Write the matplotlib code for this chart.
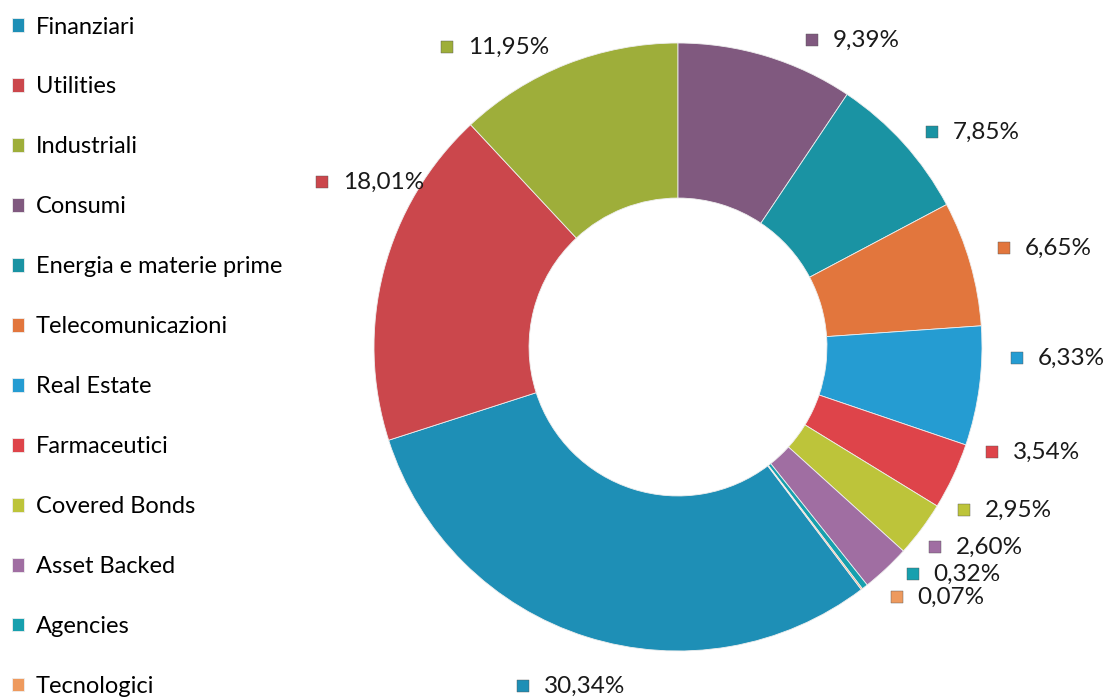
import matplotlib
matplotlib.use("Agg")
import matplotlib.pyplot as plt

plt.rcParams["font.family"] = ["Lato", "DejaVu Sans"]

# legend / data order
labels = ["Finanziari", "Utilities", "Industriali", "Consumi",
          "Energia e materie prime", "Telecomunicazioni", "Real Estate",
          "Farmaceutici", "Covered Bonds", "Asset Backed", "Agencies",
          "Tecnologici"]
values = [30.34, 18.01, 11.95, 9.39, 7.85, 6.65, 6.33, 3.54, 2.95, 2.60, 0.32, 0.07]
colors = ["#1E8FB6", "#CB474C", "#9EAE3A", "#80597F", "#1A93A3", "#E2763D",
          "#259CD2", "#DE444A", "#BDC43A", "#A06EA2", "#17A0AE", "#EE9A5E"]

# label anchors, in pie units (radius = 1), same order as labels
label_pos = [(-0.51, -1.115), (-1.171, 0.543), (-0.76, 0.987), (0.441, 1.01),
             (0.836, 0.707), (1.072, 0.326), (1.115, -0.036), (1.033, -0.345),
             (0.941, -0.536), (0.845, -0.658), (0.773, -0.747), (0.72, -0.822)]

fig = plt.figure(figsize=(11.12, 7.0), dpi=100)
ax = fig.add_axes([374 / 1112, 49 / 700, 608 / 1112, 608 / 700])

# Consumi starts at 12 o'clock, so Finanziari starts after the other 39.70%
before_first = sum(values[3:])
start = 90 - before_first / 100 * 360

wedges, _ = ax.pie(values, colors=colors, startangle=start, counterclock=False,
                   radius=1.0,
                   wedgeprops=dict(width=0.51, edgecolor="#eeeeee", linewidth=0.6))
ax.set_xlim(-1, 1)
ax.set_ylim(-1, 1)
ax.set_aspect("equal")
ax.axis("off")

for v, c, (x, y) in zip(values, colors, label_pos):
    ax.plot(x, y, marker="s", ms=8, color=c, mec="#555555", mew=0.3, clip_on=False)
    ax.text(x + 0.068, y, f"{v:.2f}".replace(".", ",") + "%", fontsize=17.5,
            color="#1a1a1a", va="center", ha="left", clip_on=False)

fig.legend(wedges, labels, loc="upper left", bbox_to_anchor=(-0.004, 1.0),
           frameon=False, fontsize=17, handlelength=0.5, handleheight=0.5,
           handletextpad=0.5, labelspacing=1.65, borderaxespad=0.3)

fig.savefig("out.png", dpi=100)
